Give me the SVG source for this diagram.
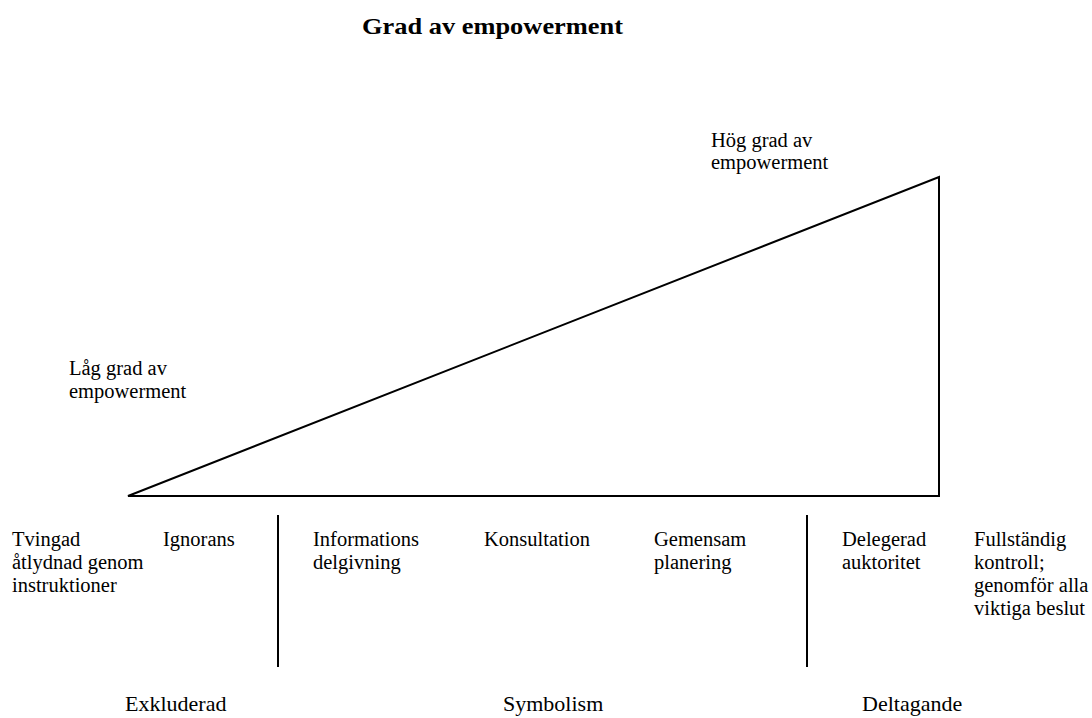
<svg xmlns="http://www.w3.org/2000/svg" width="1092" height="718" viewBox="0 0 1092 718">
<style>
text{font-family:"Liberation Serif","Times New Roman",serif;fill:#000;font-size:20.5px}
.title{font-weight:bold;font-size:23px}
.cat{font-size:22px}
.ln{stroke:#000;stroke-width:2;fill:none}
</style>
<rect width="1092" height="718" fill="#fff"/>
<text class="title" x="362" y="34" textLength="261" lengthAdjust="spacingAndGlyphs">Grad av empowerment</text>
<g id="triangle"><polygon class="ln" points="128,496 939,496 939,177"/></g>
<g id="connectors">
<line class="ln" x1="278" y1="515" x2="278" y2="667"/>
<line class="ln" x1="807" y1="515" x2="807" y2="667"/>
</g>
<g id="high"><text x="711" y="147">Hög grad av</text><text x="711" y="169">empowerment</text></g>
<g id="low"><text x="69" y="375">Låg grad av</text><text x="69" y="398">empowerment</text></g>
<g id="n1"><text x="12" y="546">Tvingad</text><text x="12" y="569">åtlydnad genom</text><text x="12" y="592">instruktioner</text></g>
<g id="n2"><text x="163" y="546">Ignorans</text></g>
<g id="n3"><text x="313" y="546">Informations</text><text x="313" y="569">delgivning</text></g>
<g id="n4"><text x="484" y="546">Konsultation</text></g>
<g id="n5"><text x="654" y="546">Gemensam</text><text x="654" y="569">planering</text></g>
<g id="n6"><text x="842" y="546">Delegerad</text><text x="842" y="569">auktoritet</text></g>
<g id="n7"><text x="974" y="546">Fullständig</text><text x="974" y="569">kontroll;</text><text x="974" y="592">genomför alla</text><text x="974" y="615">viktiga beslut</text></g>
<g id="c1"><text class="cat" x="125" y="711">Exkluderad</text></g>
<g id="c2"><text class="cat" x="503" y="711">Symbolism</text></g>
<g id="c3"><text class="cat" x="862" y="711">Deltagande</text></g>
</svg>
